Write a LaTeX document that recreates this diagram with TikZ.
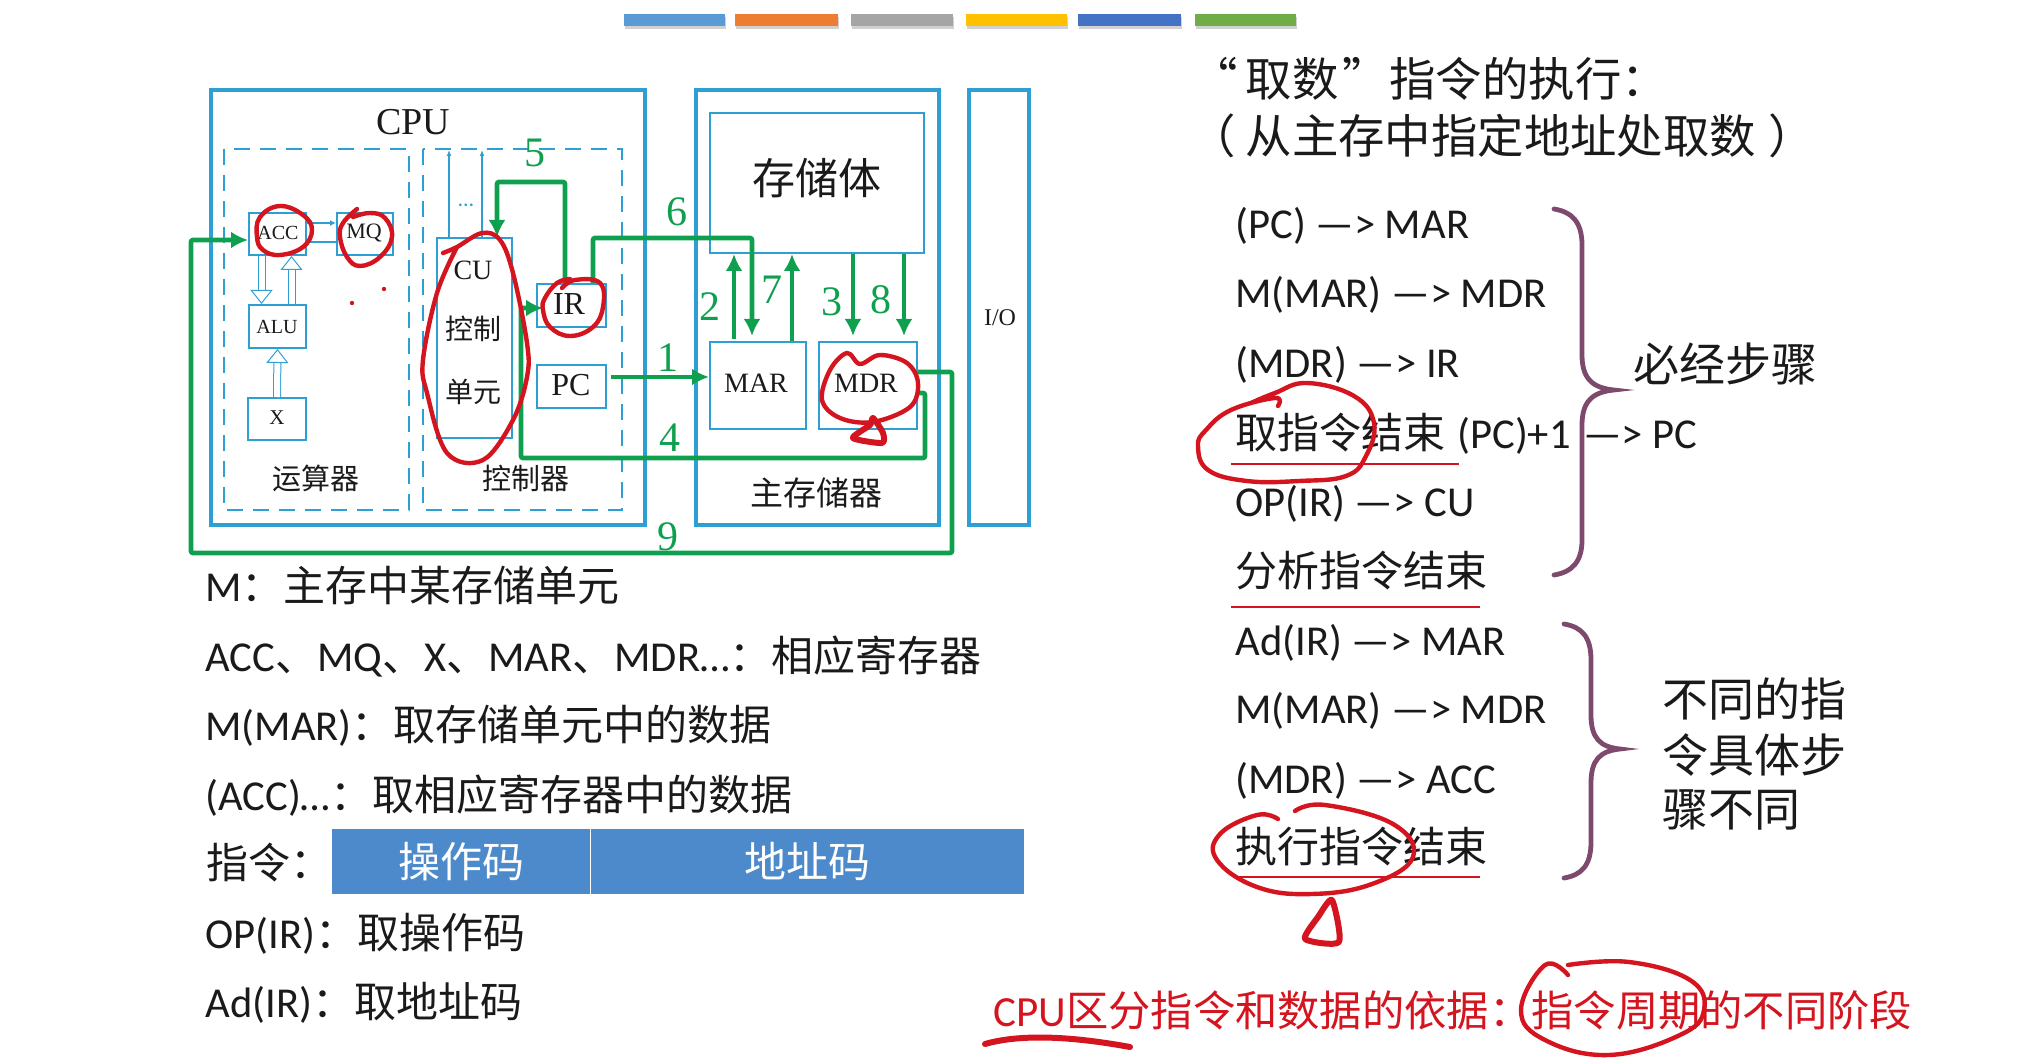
\documentclass[tikz,border=0pt]{standalone}
\usepackage{fontspec}
\usetikzlibrary{arrows.meta,calc}
\setmainfont{Carlito}
\newfontfamily\cjk{Noto Sans CJK SC}
\newfontfamily\tms{Liberation Serif}
\newcommand{\zh}[1]{{\cjk\fontsize{21}{26}\selectfont #1}}
\definecolor{boxblue}{HTML}{2E9FD3}
\definecolor{arrgreen}{HTML}{0FA04F}
\definecolor{inkred}{HTML}{D4141E}
\definecolor{braceclr}{HTML}{7D4A6E}
\definecolor{txtclr}{HTML}{1A1A1A}
\definecolor{tblblue}{HTML}{4C8ACB}
\tikzset{
 x=0.5pt,y=-0.5pt,
 thickbox/.style={draw=boxblue,line width=2.1pt,anchor=north west,inner sep=0pt},
 thinbox/.style={draw=boxblue,line width=1pt,fill=white},
 dashbox/.style={draw=boxblue,line width=1pt,dash pattern=on 8pt off 5pt},
 reg/.style={thinbox,anchor=north west,inner sep=0pt},
 flow/.style={draw=arrgreen,line width=2.3pt,rounded corners=1pt,-{Latex[length=8.5pt,width=8.5pt]}},
 num/.style={text=arrgreen,font=\tms\fontsize{21}{21}\selectfont,inner sep=0pt},
 lbl/.style={text=txtclr,inner sep=0pt},
 item/.style={text=txtclr,anchor=west,inner sep=0pt,font=\fontsize{21.3}{26}\selectfont},
 ink/.style={draw=inkred,line width=2.2pt,line cap=round,line join=round},
 inkfat/.style={draw=inkred,line width=3pt,line cap=round,line join=round},
 ulin/.style={draw=inkred,line width=1.4pt},
 brc/.style={draw=braceclr,line width=2.4pt,line cap=round},
 hollow/.style={draw=boxblue,line width=.5pt,double=white,double distance=3pt,-{Triangle[open,length=7pt,width=11pt]}},
}
\newcommand{\bx}[6]{\node[#2,minimum width=#5*0.5pt-#3*0.5pt,minimum height=#6*0.5pt-#4*0.5pt] (#1) at (#3,#4) {};}
\begin{document}
\begin{tikzpicture}
\useasboundingbox (0,0) rectangle (2025,1064);
% top bars
\foreach \n/\a/\b/\c in {b1/624/725/5B9BD5,b2/735/838/ED7D31,b3/851/953/A5A5A5,b4/966/1067/FFC000,b5/1078/1181/4472C4,b6/1195/1296/70AD47}{
 \definecolor{barc}{HTML}{\c}
 \fill[black!18] (\a+1,17) rectangle (\b+1,29);
 \fill[barc] (\a,14) rectangle (\b,26);
}
% outer boxes
\bx{cpu}{thickbox}{209}{88}{643}{523}
\bx{mem}{thickbox}{694}{88}{937}{523}
\bx{io}{thickbox}{967}{88}{1027}{523}
\draw[dashbox] (224,149) rectangle (409,510);
\draw[dashbox] (423,149) rectangle (622,510);
% registers
\bx{acc}{reg}{248}{212}{305}{254}
\bx{mq}{reg}{336}{212}{392}{254}
\bx{alu}{reg}{248}{304}{305}{347}
\bx{xr}{reg}{247}{397}{305}{439}
\bx{cu}{reg}{436}{237}{511}{437}
\bx{ir}{reg}{536}{283}{605}{326}
\bx{pc}{reg}{536}{364}{605}{407}
\bx{store}{reg}{709}{112}{923}{252}
\bx{mar}{reg}{709}{341}{805}{428}
\bx{mdr}{reg}{818}{341}{916}{428}
% labels
\node[lbl,font=\tms\fontsize{19}{19}\selectfont] (tcpu) at (413,122) {CPU};
\node[lbl,font=\tms\fontsize{10}{10}\selectfont] (tacc) at (278,233) {ACC};
\node[lbl,font=\tms\fontsize{11}{11}\selectfont] (tmq) at (364,233) {MQ};
\node[lbl,font=\tms\fontsize{10}{10}\selectfont] (talu) at (277,327) {ALU};
\node[lbl,font=\tms\fontsize{10.5}{10.5}\selectfont] (tx) at (277,418) {X};
\node[lbl,font=\tms\fontsize{14}{14}\selectfont] (tcu) at (473,270) {CU};
\node[lbl,font=\cjk\fontsize{14}{14}\selectfont] (tk) at (473,329) {控制};
\node[lbl,font=\cjk\fontsize{14}{14}\selectfont] (td) at (473,392) {单元};
\node[lbl,font=\tms\fontsize{16}{16}\selectfont] (tir) at (569,304) {IR};
\node[lbl,font=\tms\fontsize{16}{16}\selectfont] (tpc) at (571,385) {PC};
\node[lbl,font=\cjk\fontsize{14.5}{14.5}\selectfont] (tys) at (316,478) {运算器};
\node[lbl,font=\cjk\fontsize{14.5}{14.5}\selectfont] (tkz) at (526,478) {控制器};
\node[lbl,font=\cjk\fontsize{21.5}{21.5}\selectfont] (tst) at (817,178) {存储体};
\node[lbl,font=\cjk\fontsize{16.5}{16.5}\selectfont] (tzc) at (816,493) {主存储器};
\node[lbl,font=\tms\fontsize{12}{12}\selectfont] (tio) at (1000,318) {I/O};
\node[lbl,font=\tms\fontsize{14}{14}\selectfont] (tmar) at (756,383) {MAR};
\node[lbl,font=\tms\fontsize{14}{14}\selectfont] (tmdr) at (866,383) {MDR};
% thin control lines
\coordinate (cua) at (449,150); \coordinate (cub) at (482,150);
\draw[draw=boxblue,line width=.6pt,-{Latex[length=3pt,width=2.5pt]}] (cu.north west -| cua) -- (cua);
\draw[draw=boxblue,line width=.6pt,-{Latex[length=3pt,width=2.5pt]}] (cu.north west -| cub) -- (cub);
\node[text=boxblue,inner sep=0pt,font=\fontsize{11}{11}\selectfont] (cudots) at (466,205) {…};
\draw[draw=boxblue,line width=.8pt,-{Latex[length=3pt,width=3pt]}] (acc.east |- 0,223) -- (mq.west |- 0,223);
\draw[draw=boxblue,line width=1pt] (acc.east |- 0,242) -- (mq.west |- 0,242);
% hollow arrows
\draw[hollow] ([xshift=-8pt]acc.south) -- ([xshift=-8pt]alu.north);
\draw[hollow] ([xshift=7pt]alu.north) -- ([xshift=7pt]acc.south);
\draw[hollow] (xr.north) -- (alu.south);
% green flows
\coordinate (m5a) at (565,182); \coordinate (m5b) at (497,182);
\draw[flow] (m5a |- ir.north) -- (m5a) -- (m5b) -- (m5b |- cu.north);
\coordinate (m6a) at (593,238); \coordinate (m6b) at (752,238);
\draw[flow] (m6a |- ir.north) -- (m6a) -- (m6b) -- ($(m6b |- mar.north)+(0,-5)$);
\draw[flow] ($(pc.east |- 0,377)+(4,0)$) -- (mar.west |- 0,377);
\coordinate (g2) at (734,0); \coordinate (g7) at (792,0); \coordinate (g3) at (853,0); \coordinate (g8) at (904,0);
\draw[flow] ($(g2 |- mar.north)+(0,-2)$) -- (g2 |- store.south);
\draw[flow] (g7 |- mar.north) -- (g7 |- store.south);
\draw[flow] (g3 |- store.south) -- ($(g3 |- mdr.north)+(0,-5)$);
\draw[flow] (g8 |- store.south) -- ($(g8 |- mdr.north)+(0,-5)$);
\coordinate (f4a) at (925,393); \coordinate (f4b) at (925,458); \coordinate (f4c) at (521,458); \coordinate (f4d) at (521,308);
\draw[flow] (f4a -| mdr.east) -- (f4a) -- (f4b) -- (f4c) -- (f4d) -- ($(ir.west |- f4d)+(7,0)$);
\coordinate (f9a) at (952,372); \coordinate (f9b) at (952,553); \coordinate (f9c) at (191,553); \coordinate (f9d) at (191,240);
\draw[flow] (mdr.east |- f9a) -- (f9a) -- (f9b) -- (f9c) -- (f9d) -- (acc.west |- f9d);
% numbers
\node[num] (n1) at (668,358) {1};
\node[num] (n2) at (710,307) {2};
\node[num] (n3) at (832,302) {3};
\node[num] (n4) at (670,438) {4};
\node[num] (n5) at (535,153) {5};
\node[num] (n6) at (677,212) {6};
\node[num] (n7) at (772,290) {7};
\node[num] (n8) at (881,300) {8};
\node[num] (n9) at (668,537) {9};
% left list
\node[item] (l1) at (205,585) {M\zh{：主存中某存储单元}};
\node[item] (l2) at (205,657) {ACC\zh{、}MQ\zh{、}X\zh{、}MAR\zh{、}MDR…\zh{：相应寄存器}};
\node[item] (l3) at (205,726) {M(MAR)\zh{：取存储单元中的数据}};
\node[item] (l4) at (205,796) {(ACC)…\zh{：取相应寄存器中的数据}};
\node[item] (l5) at (206,863) {\zh{指令：}};
\node[item] (l6) at (205,934) {OP(IR)\zh{：取操作码}};
\node[item] (l7) at (205,1003) {Ad(IR)\zh{：取地址码}};
% instruction table
\node[draw=none,fill=tblblue,anchor=north west,inner sep=0pt,minimum width=129pt,minimum height=32.5pt,text=white,font=\cjk\fontsize{21}{21}\selectfont] (opc) at (332,829) {操作码};
\node[draw=none,fill=tblblue,anchor=north west,inner sep=0pt,minimum width=216.5pt,minimum height=32.5pt,text=white,font=\cjk\fontsize{21}{21}\selectfont] (adc) at (591,829) {地址码};
% right column
\node[item,font=\cjk\fontsize{23.2}{26}\selectfont] (t1) at (1199,79) {\makebox[23.2pt][r]{“\hspace{4pt}}取数\makebox[25.5pt][l]{\hspace{2pt}”}指令的执行：};
\node[item,font=\cjk\fontsize{23.2}{26}\selectfont] (t2) at (1199,136) {\makebox[23.2pt][r]{（\hspace{5pt}}从主存中指定地址处取数\makebox[23.2pt][l]{\hspace{6pt}）}};
\node[item] (s1) at (1235,226) {(PC) —> MAR};
\node[item] (s2) at (1235,295) {M(MAR) —> MDR};
\node[item] (s3) at (1235,365) {(MDR) —> IR};
\node[item] (s4) at (1235,434) {\makebox[111pt][l]{\zh{取指令结束}}\makebox[63pt][l]{(PC)+1}—> PC};
\node[item] (s5) at (1235,504) {OP(IR) —> CU};
\node[item,font=\cjk\fontsize{21}{26}\selectfont] (s6) at (1235,571) {分析指令结束};
\node[item] (s7) at (1235,643) {Ad(IR) —> MAR};
\node[item] (s8) at (1235,711) {M(MAR) —> MDR};
\node[item] (s9) at (1235,781) {(MDR) —> ACC};
\node[item,font=\cjk\fontsize{21}{26}\selectfont] (s10) at (1235,847) {执行指令结束};
% braces
\draw[brc] (1554,209) .. controls (1572,212) and (1582,222) .. (1582,245) -- (1582,355) .. controls (1582,378) and (1592,388) .. (1614,390) .. controls (1592,392) and (1582,402) .. (1582,425) -- (1582,540) .. controls (1582,562) and (1572,572) .. (1554,575);
\draw[brc] (1564,624) .. controls (1582,627) and (1591,637) .. (1591,660) -- (1591,715) .. controls (1591,738) and (1600,747) .. (1620,749) .. controls (1600,751) and (1591,760) .. (1591,783) -- (1591,842) .. controls (1591,865) and (1582,875) .. (1564,878);
\node[lbl,anchor=west,font=\cjk\fontsize{23}{26}\selectfont] (bj) at (1633,364) {必经步骤};
\node[lbl,anchor=west,font=\cjk\fontsize{23}{26}\selectfont] (bt1) at (1662,699) {不同的指};
\node[lbl,anchor=west,font=\cjk\fontsize{23}{26}\selectfont] (bt2) at (1662,755) {令具体步};
\node[lbl,anchor=west,font=\cjk\fontsize{23}{26}\selectfont] (bt3) at (1662,810) {骤不同};
% underlines
\draw[ulin] (1231,464) -- (1459,464);
\draw[ulin] (1231,607) -- (1480,607);
\draw[ulin] (1233,877) -- (1480,877);
% bottom
\node[item,text=inkred,font=\fontsize{21.5}{26}\selectfont] (bot) at (993,1010) {CPU{\cjk\fontsize{21.15}{26}\selectfont 区分指令和数据的依据：指令周期的不同阶段}};
\draw[inkfat] (985,1044) .. controls (1020,1034) and (1070,1036) .. (1130,1047);
% handwriting
\draw[ink] plot[smooth cycle,tension=.7] coordinates {(257,237)(260,217)(280,206)(303,215)(312,230)(303,247)(280,255)(263,250)};
\draw[ink] plot[smooth,tension=.7] coordinates {(357,209)(343,223)(340,237)(347,257)(360,266)(380,257)(392,237)(385,218)(370,213)(353,217)};
\fill[inkred] (352,303) circle (2.2) (384,289) circle (2.2);
\draw[ink] plot[smooth,tension=.6] coordinates {(443,253)(457,247)(482,233)(500,240)(513,273)(527,343)(527,377)(513,420)(483,460)(447,453)(427,393)(423,360)(437,293)(457,247)};
\draw[ink] plot[smooth,tension=.7] coordinates {(562,288)(575,280)(600,283)(603,307)(593,327)(570,336)(550,327)(543,310)(545,298)(557,283)(570,279)};
\draw[ink] plot[smooth cycle,tension=.6] coordinates {(847,353)(860,364)(880,355)(907,363)(918,383)(910,407)(873,422)(840,418)(822,400)(830,370)};
\draw[inkfat] plot[smooth cycle,tension=.4] coordinates {(873,418)(883,433)(882,443)(853,438)(870,425)};
\draw[ink] plot[smooth,tension=.7] coordinates {(1278,406)(1275,398)(1231,410)(1206,430)(1198,446)(1208,470)(1247,481)(1299,481)(1346,476)(1366,456)(1374,423)(1354,396)(1307,383)(1275,393)(1251,403)};
\draw[ink] plot[smooth,tension=.7] coordinates {(1278,819)(1257,815)(1220,834)(1217,860)(1257,887)(1312,894)(1372,884)(1413,857)(1393,824)(1325,805)(1295,811)};
\draw[inkfat] plot[smooth cycle,tension=.4] coordinates {(1332,900)(1339,942)(1305,939)(1318,917)};
\draw[ink] plot[smooth,tension=.7] coordinates {(1568,975)(1545,965)(1521,1010)(1545,1040)(1609,1055)(1680,1035)(1704,1010)(1690,980)(1629,962)(1568,965)};
\end{tikzpicture}
\end{document}
